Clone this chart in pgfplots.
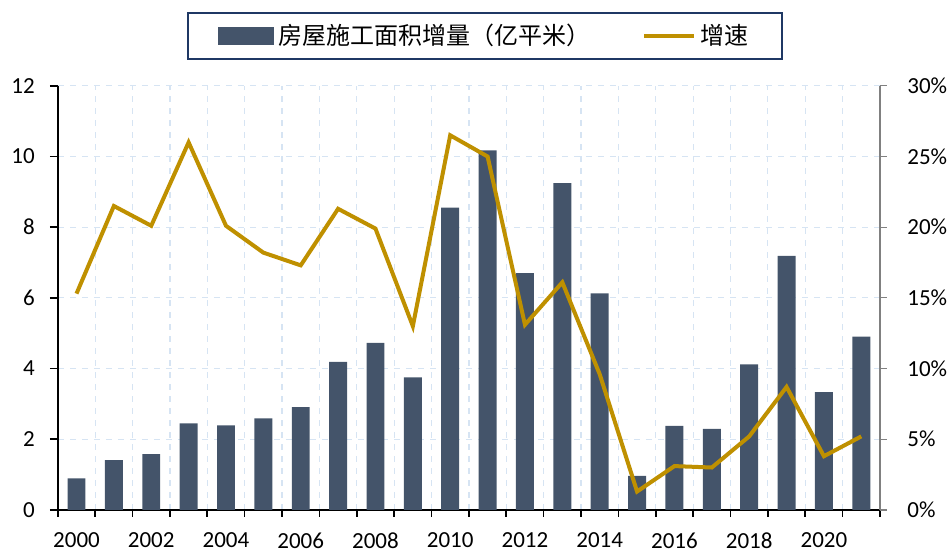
\documentclass[border=0pt]{standalone}
\usepackage{fontspec}
\setmainfont{Carlito}
\newfontfamily\cjk{Noto Sans CJK SC}
\usepackage{pgfplots}
\usepackage{pgfplotstable}
\pgfplotsset{compat=1.18}
\definecolor{barc}{HTML}{44546A}
\definecolor{linec}{HTML}{BF9000}
\definecolor{gridc}{HTML}{D6E4F3}
\definecolor{legbd}{HTML}{1F3864}

% x: 0 = 2000 ... 21 = 2021
\pgfplotstableread{
x area
0 0.89
1 1.41
2 1.58
3 2.45
4 2.39
5 2.59
6 2.91
7 4.19
8 4.73
9 3.75
10 8.55
11 10.17
12 6.70
13 9.25
14 6.13
15 0.96
16 2.38
17 2.29
18 4.12
19 7.19
20 3.33
21 4.90
}\areatab

\pgfplotstableread{
x rate
0 15.3
1 21.5
2 20.1
3 26.0
4 20.1
5 18.2
6 17.3
7 21.3
8 19.9
9 13.0
10 26.5
11 25.0
12 13.1
13 16.1
14 9.6
15 1.3
16 3.1
17 3.0
18 5.2
19 8.7
20 3.8
21 5.2
}\ratetab

\pgfplotsset{
  common/.style={
    scale only axis, width=411pt, height=212pt,
    xmin=-0.5, xmax=21.5,
    tick align=outside,
    /pgf/number format/assume math mode=true,
    tick label style={font=\fontsize{11.5}{13}\selectfont},
  },
}

\begin{document}
\begin{tikzpicture}
\begin{axis}[common, name=main,
  ymin=0, ymax=12,
  axis lines*=left,
  axis line style={-, black, line width=1pt},
  xtick={0,2,...,20},
  xticklabels={2000,2002,2004,2006,2008,2010,2012,2014,2016,2018,2020},
  every major x tick/.style={draw=none},
  minor xtick={-0.5,0.5,...,21.5},
  minor tick length=3.5pt, major tick length=4pt,
  xticklabel shift=4pt, yticklabel shift=4pt,
  tick style={black, line width=0.8pt},
  ytick={0,2,...,12},
  ymajorgrids, xminorgrids,
  major grid style={gridc, dashed, line width=0.6pt},
  minor grid style={gridc, dashed, line width=0.6pt},
  legend columns=2,
  legend style={at={(0.52,1.174)}, anchor=north, draw=legbd, line width=1pt,
    font=\cjk\fontsize{12}{14}\selectfont, inner xsep=15pt, inner ysep=3.5pt,
    /tikz/every even column/.append style={column sep=24pt}},
  legend cell align=left,
]
\addplot[ybar, bar width=0.48, fill=barc, draw=none,
  legend image code/.code={\fill[barc] (0pt,-4.5pt) rectangle (28pt,4.5pt);}]
  table[x=x, y=area]{\areatab};
\addlegendentry{房屋施工面积增量（亿平米）}
\addlegendimage{legend image code/.code={\draw[linec, line width=2pt] (0pt,0pt) -- (25pt,0pt);}}
\addlegendentry{增速}
\end{axis}
\begin{axis}[common,
  ymin=0, ymax=30,
  axis y line*=right, axis x line=none, xtick=\empty,
  y axis line style={-, gray, line width=0.6pt},
  ytick={0,5,...,30},
  yticklabel={\pgfmathprintnumber{\tick}\%},
  yticklabel style={inner xsep=1pt},
  major tick length=3.5pt, yticklabel shift=9pt,
  tick style={gray, line width=0.6pt},
]
\addplot[linec, line width=2pt, mark=none] table[x=x, y=rate]{\ratetab};
\end{axis}
\pgfresetboundingbox
\path (main.south west) ++(-28.9pt,-21.5pt) rectangle ([shift={(33.5pt,42.9pt)}]main.north east);
\end{tikzpicture}
\end{document}
